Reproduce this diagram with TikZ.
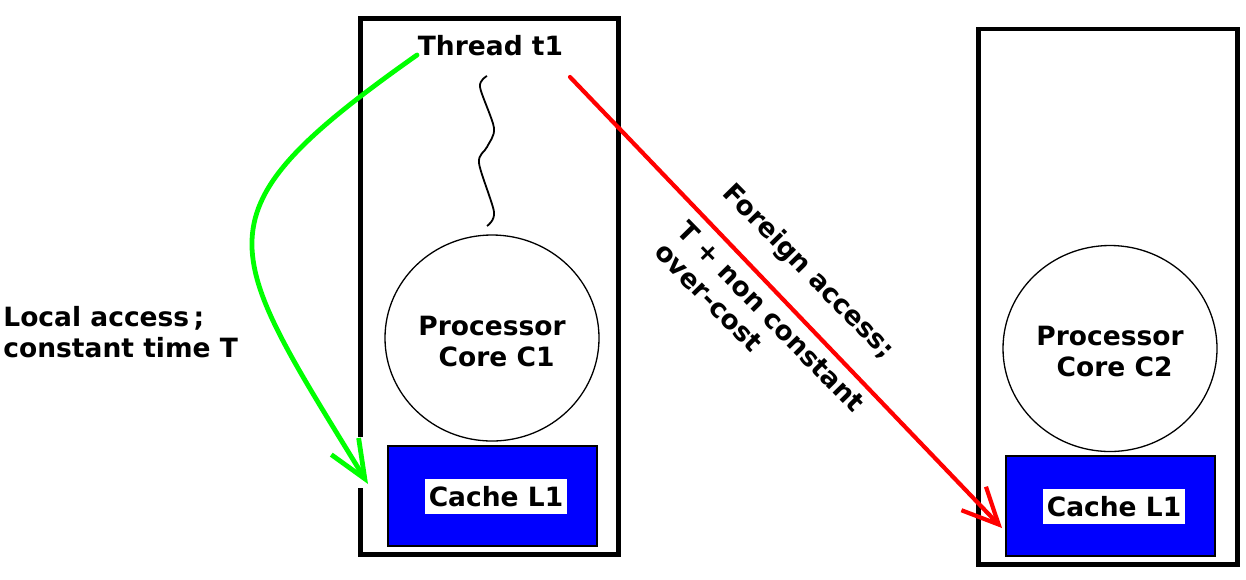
\documentclass[tikz,border=0pt]{standalone}
\usepackage{fontspec}
\setmainfont{DejaVu Sans}
\usepackage{xcolor}
\usepackage{tikz}
\usetikzlibrary{arrows.meta,shapes.geometric}

\begin{document}
\begin{tikzpicture}[
    x=0.5pt, y=-0.5pt,
    every node/.style={font=\bfseries\fontsize{13.25}{15.5}\selectfont},
    frame/.style={line width=2.4pt},
    core/.style={draw, ellipse, line width=0.65pt, minimum width=107pt, minimum height=103pt, inner sep=0pt, align=center},
    cache/.style={draw, fill=blue, line width=0.9pt, minimum width=104.5pt, minimum height=50pt},
    tag/.style={fill=white, inner xsep=2pt, minimum height=17.5pt},
    note/.style={align=left, inner sep=0pt},
    localarrow/.style={green, line width=2.4pt, line cap=round, -{Straight Barb[length=19pt, width=16pt]}},
    foreignarrow/.style={red, line width=2.1pt, line cap=round, -{Straight Barb[length=18pt, width=17pt]}}
]
\useasboundingbox (0,0) rectangle (1246,579);

% the two frames (left one open where the local arrow comes in)
\draw[frame] (360.5,437) -- (360.5,18.5) -- (618.5,18.5) -- (618.5,554.5) -- (360.5,554.5) -- (360.5,488);
\draw[frame] (978.5,29) rectangle (1237.5,564.5);

\node (thread) at (490.5,46) {Thread t1};
\draw[line width=0.9pt] plot[smooth] coordinates {(487,76) (480,87) (494,128) (487,147) (479,163) (494,212) (487,226)};

\node[core] (core1) at (492,338) {\rule{0pt}{12.7pt}Processor\\\ Core C1};
\node[core] (core2) at (1110,348.5) {\rule{0pt}{12.7pt}Processor\\\ Core C2};

\node[cache] (cache1) at (492.5,496) {};
\node[tag] (tag1) at (496,496.5) {Cache L1};
\node[cache] (cache2) at (1110.5,506) {};
\node[tag] (tag2) at (1114,506.5) {Cache L1};

% accesses
\coordinate (gstart) at (417,55);
\coordinate (gend) at (368,484);
\draw[localarrow] (gstart) .. controls (190,215) and (222,245) .. (gend);
\coordinate (rstart) at (570,77);
\coordinate (rend) at (1002,528);
\draw[foreignarrow] (rstart) -- (rend);

\node[note, anchor=west] (local) at (3,332.5) {Local access\,;\\constant time T};
\node[rotate=-45.5] (foreign) at (808,272) {Foreign access;};
\node[note, rotate=-45.5] (overcost) at (760,327) {T + non constant\\over-cost};
\end{tikzpicture}
\end{document}
